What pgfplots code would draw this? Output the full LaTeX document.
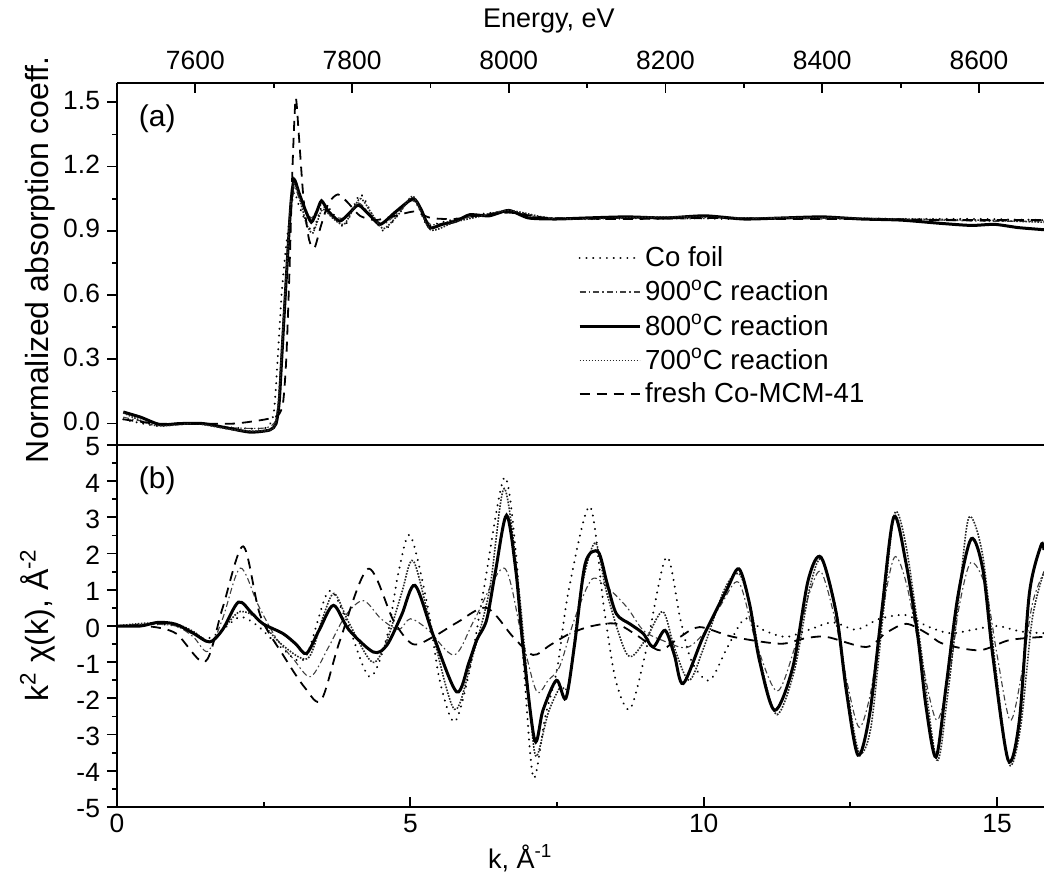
\documentclass[border=0pt]{standalone}
\usepackage{pgfplots}
\pgfplotsset{compat=1.18}
\usepackage{fontspec}
\setmainfont{Liberation Sans}
\pgfplotsset{
  cofoil/.style={black, line width=1.1pt, line cap=round, dash pattern=on 0.01pt off 3.4pt},
  nine/.style={black!75, line width=0.55pt, dash pattern=on 3pt off 1.5pt on 0.8pt off 1.5pt},
  eight/.style={black, line width=1.5pt},
  seven/.style={black!85, line width=0.8pt, dash pattern=on 0.8pt off 0.7pt},
  fresh/.style={black, line width=0.9pt, dash pattern=on 5pt off 3.5pt},
  common/.style={
    scale only axis, width=463.5pt, height=181pt,
    axis y line*=left, axis line style={line width=1.2pt},
    ytick align=outside, major tick length=5pt, minor tick length=2.5pt,
    every tick/.style={black, line width=0.9pt},
    /pgf/number format/assume math mode=true,
    /pgf/number format/1000 sep={},
    ticklabel style={font=\fontsize{13.2}{14}\selectfont},
    clip=true,
  },
}
\begin{document}
\begin{tikzpicture}
\useasboundingbox (0,0) rectangle (522pt,439pt);
% ---------- panel (a)
\begin{axis}[common,
  anchor=south west, at={(58.5pt,216.5pt)},
  xmin=7500, xmax=8683, ymin=-0.1, ymax=1.59,
  scaled x ticks=false,
  xtick={7600,7800,8000,8200,8400,8600}, minor x tick num=1,
  xtick pos=right, xticklabel pos=right,
  xticklabel style={yshift=3pt},
  ytick={0,0.3,0.6,0.9,1.2,1.5}, minor y tick num=1,
  yticklabel style={/pgf/number format/fixed, /pgf/number format/fixed zerofill, /pgf/number format/precision=1, yshift=1pt},
  xlabel={Energy, eV},
  xlabel style={font=\fontsize{13.5}{14}\selectfont, at={(axis description cs:0.466,1.17)}, anchor=center},
  ylabel={Normalized absorption coeff.},
  ylabel style={font=\fontsize{16}{17}\selectfont, at={(axis description cs:-0.083,0.512)}, anchor=center},
  legend style={draw=none, fill=none, font=\fontsize{13.8}{14.5}\selectfont,
    at={(axis description cs:0.497,0.56)}, anchor=north west,
    row sep=1.2pt, inner sep=0pt, cells={anchor=west}},
  legend image code/.code={\draw[#1] (0pt,0pt) -- (30pt,0pt);},
]
\addplot[cofoil, smooth, tension=0.4] coordinates {
(7508,0.02) (7550,-0.01) (7600,0.0) (7650,-0.02) (7690,-0.02) (7700,0.05) (7705,0.3) (7710,0.6) (7715,0.8) (7720,0.95) (7726,1.08) (7732,1.02) (7740,0.95) (7750,0.90) (7762,1.02) (7772,1.0) (7790,0.92) (7810,1.07) (7825,0.98) (7840,0.90) (7860,0.98) (7878,1.06) (7895,0.93) (7915,0.94) (7950,0.97) (8000,0.99) (8050,0.96) (8100,0.955) (8200,0.96) (8300,0.955) (8400,0.96) (8500,0.955) (8600,0.955) (8683,0.95)};
\addlegendentry{Co foil}
\addplot[nine, smooth, tension=0.4] coordinates {
(7508,0.03) (7550,0.0) (7600,0.0) (7650,-0.02) (7690,-0.02) (7703,0.02) (7708,0.2) (7713,0.5) (7718,0.8) (7723,1.02) (7727,1.1) (7735,1.03) (7748,0.96) (7760,1.02) (7775,0.97) (7790,0.96) (7808,1.03) (7825,0.97) (7840,0.93) (7860,0.99) (7878,1.04) (7900,0.93) (7930,0.95) (7960,0.97) (8000,0.99) (8050,0.955) (8100,0.96) (8200,0.955) (8300,0.96) (8400,0.955) (8500,0.955) (8600,0.945) (8683,0.945)};
\addlegendentry{900\textsuperscript{o}C reaction}
\addplot[eight, smooth, tension=0.4] coordinates {
(7508,0.054) (7530,0.03) (7555,-0.005) (7580,0.0) (7610,0.0) (7640,-0.02) (7670,-0.04) (7695,-0.03) (7703,0.0) (7707,0.1) (7710,0.29) (7714,0.55) (7718,0.8) (7722,1.03) (7726,1.14) (7732,1.08) (7740,1.0) (7748,0.94) (7755,0.99) (7761,1.04) (7770,0.99) (7784,0.945) (7796,0.98) (7808,1.02) (7822,0.975) (7836,0.93) (7856,0.99) (7878,1.05) (7888,1.0) (7899,0.915) (7915,0.93) (7933,0.945) (7950,0.975) (7975,0.97) (8000,0.995) (8025,0.96) (8060,0.955) (8100,0.96) (8150,0.965) (8200,0.96) (8250,0.97) (8300,0.955) (8350,0.96) (8400,0.965) (8450,0.955) (8500,0.95) (8550,0.935) (8590,0.925) (8620,0.93) (8650,0.915) (8683,0.905)};
\addlegendentry{800\textsuperscript{o}C reaction}
\addplot[seven, smooth, tension=0.4] coordinates {
(7508,0.05) (7550,-0.01) (7600,0.0) (7650,-0.03) (7680,-0.035) (7700,-0.02) (7706,0.1) (7711,0.4) (7716,0.7) (7721,1.0) (7726,1.12) (7733,1.05) (7742,0.93) (7750,0.89) (7762,1.0) (7775,0.96) (7790,0.93) (7810,1.05) (7825,0.98) (7840,0.91) (7860,0.98) (7878,1.06) (7900,0.905) (7930,0.94) (7960,0.965) (8000,0.995) (8050,0.96) (8100,0.955) (8200,0.965) (8300,0.96) (8400,0.96) (8500,0.955) (8600,0.95) (8683,0.94)};
\addlegendentry{700\textsuperscript{o}C reaction}
\addplot[fresh, smooth, tension=0.4] coordinates {
(7508,0.02) (7550,0.0) (7600,0.0) (7650,0.0) (7690,0.02) (7706,0.04) (7712,0.1) (7716,0.3) (7720,0.7) (7724,1.2) (7728,1.52) (7732,1.35) (7738,1.05) (7745,0.86) (7752,0.82) (7760,0.92) (7770,1.03) (7782,1.07) (7795,1.03) (7810,0.97) (7830,0.95) (7855,0.97) (7880,0.99) (7900,0.96) (7930,0.955) (7960,0.97) (8000,0.985) (8050,0.96) (8150,0.955) (8250,0.96) (8350,0.955) (8450,0.955) (8550,0.95) (8683,0.95)};
\addlegendentry{fresh Co-MCM-41}
\node[anchor=west, font=\fontsize{15}{16}\selectfont] at (axis description cs:0.016,0.9) {(a)};
\end{axis}
% ---------- panel (b)
\begin{axis}[common,
  anchor=south west, at={(58.5pt,35.5pt)},
  xmin=0, xmax=15.8, ymin=-5, ymax=5,
  xtick={0,5,10,15}, minor x tick num=1,
  xtick pos=left, xticklabel pos=left,
  ytick={-5,-4,-3,-2,-1,0,1,2,3,4,5}, minor y tick num=1,
  yticklabel style={yshift=-1pt},
  xlabel={k, Å\textsuperscript{-1}},
  xlabel style={font=\fontsize{13.5}{14}\selectfont, at={(axis description cs:0.435,-0.141)}, anchor=center},
  ylabel={k\textsuperscript{2} χ(k), Å\textsuperscript{-2}},
  ylabel style={font=\fontsize{16}{17}\selectfont, at={(axis description cs:-0.086,0.503)}, anchor=center},
]
\addplot[cofoil, smooth, tension=0.5] coordinates {
(0,0) (0.5,0.05) (1.0,0.0) (1.5,-0.35) (1.8,-0.1) (2.1,0.25) (2.4,0.0) (2.8,-0.6) (3.2,-0.9) (3.6,0.95) (3.9,0.2) (4.3,-1.4) (4.6,-0.3) (4.8,1.5) (5.0,2.5) (5.3,0.5) (5.5,-1.5) (5.75,-2.65) (6.0,-1.3) (6.25,1.0) (6.6,4.1) (6.8,2.0) (6.95,-1.5) (7.1,-4.2) (7.3,-2.5) (7.5,-1.2) (7.7,1.0) (8.06,3.3) (8.3,0.5) (8.5,-1.5) (8.74,-2.3) (9.0,-0.8) (9.36,1.9) (9.6,0.2) (9.8,-1.0) (10.1,-1.5) (10.4,-0.6) (10.7,0.2) (11.0,-0.1) (11.4,-0.3) (11.8,-0.1) (12.2,0.1) (12.6,-0.1) (13.0,0.2) (13.45,0.3) (13.8,0.0) (14.2,-0.2) (14.6,-0.1) (15.0,0.0) (15.4,-0.15) (15.8,-0.2)};
\addplot[nine, smooth, tension=0.5] coordinates {
(0,0) (0.5,0.05) (1.0,0.0) (1.3,-0.3) (1.55,-0.7) (1.8,0.2) (2.1,1.6) (2.4,0.6) (2.7,-0.3) (3.0,-0.9) (3.3,-1.4) (3.6,-0.6) (3.9,0.3) (4.2,0.7) (4.5,0.2) (4.8,-0.1) (5.0,0.2) (5.3,-0.1) (5.75,-0.8) (6.1,0.2) (6.6,1.6) (6.9,-0.3) (7.15,-1.8) (7.35,-1.5) (7.55,-1.1) (7.8,0.2) (8.1,1.3) (8.4,1.0) (8.7,0.5) (8.97,-0.12) (9.3,-0.4) (9.7,-0.6) (10.0,-0.2) (10.3,0.6) (10.6,1.2) (10.9,-0.5) (11.25,-1.8) (11.55,-0.6) (11.8,0.9) (12.0,1.5) (12.25,0.1) (12.45,-1.6) (12.65,-2.8) (12.85,-1.8) (13.05,0.4) (13.25,1.9) (13.45,1.2) (13.7,-0.8) (13.97,-2.6) (14.2,-1.2) (14.35,0.5) (14.55,1.75) (14.8,1.1) (15.0,-0.8) (15.22,-2.6) (15.4,-1.5) (15.6,0.6) (15.8,1.5)};
\addplot[seven, smooth, tension=0.5] coordinates {
(0,0) (0.5,0.08) (1.0,0.05) (1.3,-0.15) (1.6,-0.45) (1.85,0.0) (2.1,0.4) (2.4,0.2) (2.8,-0.5) (3.25,-0.9) (3.5,0.2) (3.7,0.9) (3.95,0.1) (4.35,-1.0) (4.6,-0.4) (4.85,0.9) (5.05,1.8) (5.35,0.0) (5.75,-2.3) (6.05,-0.9) (6.35,1.0) (6.6,3.8) (6.85,1.0) (7.05,-2.5) (7.15,-3.6) (7.35,-2.4) (7.55,-1.7) (7.7,-1.6) (7.9,0.9) (8.15,2.3) (8.35,0.9) (8.7,-0.8) (9.0,-0.4) (9.3,0.4) (9.5,-0.6) (9.75,-1.5) (10.0,-0.6) (10.35,1.0) (10.6,1.45) (10.8,0.5) (11.0,-1.2) (11.25,-2.45) (11.55,-1.2) (11.8,1.0) (12.0,1.85) (12.25,0.5) (12.45,-1.8) (12.65,-3.5) (12.85,-2.8) (13.05,0.2) (13.25,3.1) (13.45,2.2) (13.7,-0.6) (13.97,-3.7) (14.15,-2.0) (14.35,0.8) (14.52,3.0) (14.75,2.0) (14.95,-0.8) (15.2,-3.8) (15.4,-2.8) (15.6,0.2) (15.8,1.5)};
\addplot[fresh, smooth, tension=0.5] coordinates {
(0,0) (0.5,0.0) (1.0,-0.2) (1.5,-0.99) (1.8,0.5) (2.15,2.2) (2.44,0.3) (2.83,-0.8) (3.2,-1.7) (3.48,-2.05) (3.8,-0.4) (4.28,1.58) (4.71,0.16) (5.04,-0.5) (5.39,-0.3) (5.8,0.1) (6.3,0.5) (6.75,-0.3) (7.09,-0.8) (7.38,-0.53) (7.72,-0.21) (8.1,0.0) (8.51,0.06) (8.9,-0.3) (9.25,-0.67) (9.6,-0.3) (9.93,-0.03) (10.5,-0.3) (11.3,-0.49) (11.7,-0.35) (12.09,-0.3) (12.77,-0.58) (13.1,-0.2) (13.45,0.06) (13.8,-0.2) (14.08,-0.49) (14.7,-0.67) (15.21,-0.39) (15.8,-0.3)};
\addplot[eight, smooth, tension=0.5] coordinates {
(0,0) (0.4,0) (0.7,0.1) (1.0,0.05) (1.3,-0.2) (1.58,-0.44) (1.8,-0.1) (2.07,0.66) (2.3,0.35) (2.49,0.06) (2.83,-0.21) (3.05,-0.5) (3.23,-0.76) (3.45,-0.1) (3.69,0.57) (3.95,-0.1) (4.37,-0.72) (4.6,-0.53) (4.85,0.3) (5.08,1.12) (5.4,-0.3) (5.79,-1.82) (6.0,-1.0) (6.13,-0.39) (6.3,0.17) (6.45,1.5) (6.64,3.06) (6.8,1.5) (6.92,-0.57) (7.12,-3.16) (7.26,-2.33) (7.49,-1.5) (7.65,-2.0) (7.8,-0.5) (7.98,1.72) (8.2,2.05) (8.35,1.2) (8.51,0.34) (8.75,0.05) (8.97,-0.21) (9.14,-0.58) (9.34,-0.12) (9.5,-0.8) (9.65,-1.59) (9.99,-0.3) (10.39,0.99) (10.6,1.58) (10.78,0.62) (10.95,-0.95) (11.21,-2.33) (11.52,-1.13) (11.78,1.26) (12.0,1.9) (12.26,0.34) (12.43,-1.78) (12.63,-3.57) (12.83,-2.42) (13.03,0.34) (13.24,3.01) (13.45,1.72) (13.65,-0.3) (13.79,-2.24) (13.96,-3.62) (14.13,-1.68) (14.33,0.8) (14.56,2.41) (14.76,1.54) (14.93,-0.86) (15.19,-3.71) (15.38,-2.61) (15.55,0.89) (15.75,2.23) (15.8,2.1)};
\node[anchor=west, font=\fontsize{15}{16}\selectfont] at (axis description cs:0.016,0.9) {(b)};
\end{axis}
\end{tikzpicture}
\end{document}
